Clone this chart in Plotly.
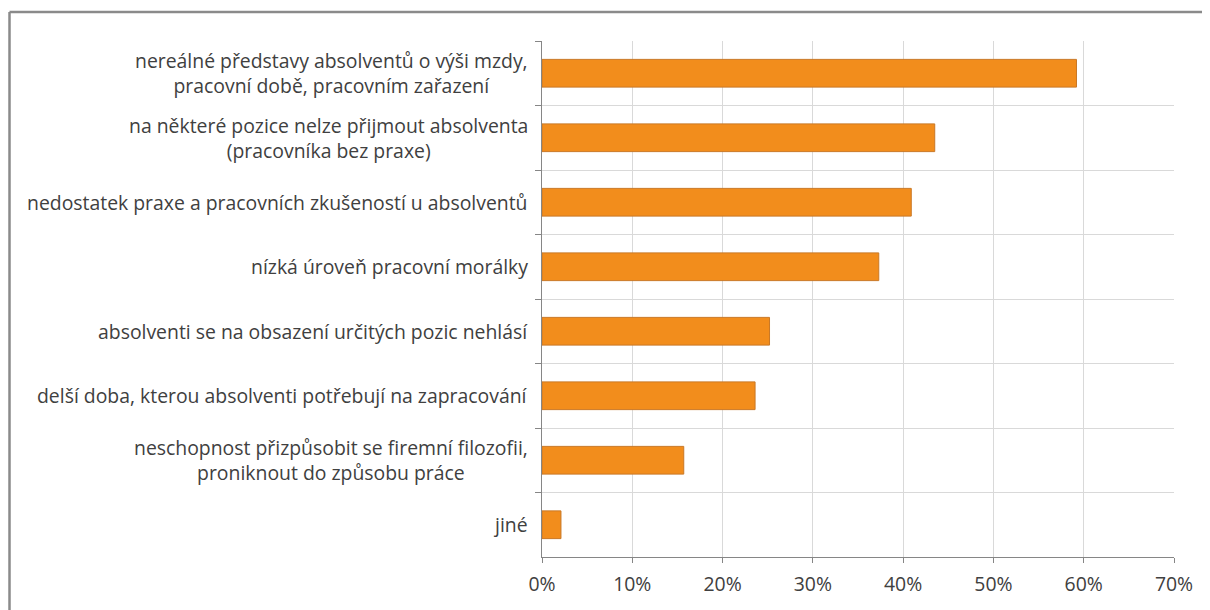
import plotly.graph_objects as go

categories = [
    "nereálné představy absolventů o výši mzdy,<br>pracovní době, pracovním zařazení",
    "na některé pozice nelze přijmout absolventa<br>(pracovníka bez praxe)",
    "nedostatek praxe a pracovních zkušeností u absolventů",
    "nízká úroveň pracovní morálky",
    "absolventi se na obsazení určitých pozic nehlásí",
    "delší doba, kterou absolventi potřebují na zapracování",
    "neschopnost přizpůsobit se firemní filozofii,<br>proniknout do způsobu práce",
    "jiné",
]
values = [0.592, 0.435, 0.409, 0.373, 0.252, 0.236, 0.157, 0.021]
x_ticks = [0, 0.1, 0.2, 0.3, 0.4, 0.5, 0.6, 0.7]

# page body has an 8px margin, so the figure is drawn from (8, 8)
OFF = 8
W, H = 1210 - OFF, 610 - OFF
ml, mr, mt, mb = 542 - OFF, 36, 41 - OFF, 53
pw = W - ml - mr
ph = H - mt - mb

TXT = "#404040"
FONT = 19.4

fig = go.Figure()
fig.add_trace(go.Bar(
    x=values,
    y=categories,
    orientation="h",
    marker=dict(color="#F28D1C", line=dict(color="#C97826", width=1)),
    width=0.43,
))

fig.update_xaxes(
    range=[0, 0.7],
    tickvals=x_ticks,
    tickformat=".0%",
    showgrid=True,
    gridcolor="#d9d9d9",
    gridwidth=1,
    showline=True,
    linecolor="#868686",
    linewidth=1,
    ticks="outside",
    ticklen=5,
    tickcolor="#868686",
    ticklabelstandoff=5,
    zeroline=False,
    tickfont=dict(size=FONT, color=TXT),
)
fig.update_yaxes(
    autorange="reversed",
    type="category",
    tickson="boundaries",
    showgrid=True,
    gridcolor="#d9d9d9",
    showline=True,
    linecolor="#868686",
    linewidth=1,
    ticks="outside",
    ticklen=6,
    tickcolor="#868686",
    showticklabels=False,
)

# category labels, centred lines like the original
for c in categories:
    fig.add_annotation(
        x=0, xref="paper", y=c, yref="y",
        text=c, showarrow=False,
        xanchor="right", yanchor="middle", align="center",
        xshift=-12,
        font=dict(size=FONT, color=TXT),
    )

# gray frame around the chart (only top and left visible)
def px_x(p):
    return (p - OFF - ml) / pw

def px_y(p):
    return (H - mb - (p - OFF)) / ph

fig.add_shape(type="line", xref="paper", yref="paper",
              x0=px_x(9.5), y0=px_y(12), x1=px_x(1215), y1=px_y(12),
              line=dict(color="#8a8a8a", width=2.5))
fig.add_shape(type="line", xref="paper", yref="paper",
              x0=px_x(9.5), y0=px_y(12), x1=px_x(9.5), y1=px_y(615),
              line=dict(color="#8a8a8a", width=2.5))

fig.update_layout(
    width=W,
    height=H,
    margin=dict(l=ml, r=mr, t=mt, b=mb),
    paper_bgcolor="white",
    plot_bgcolor="white",
    showlegend=False,
    font=dict(family="Open Sans, Noto Sans, sans-serif", color=TXT),
)

fig.write_html("out.html")
